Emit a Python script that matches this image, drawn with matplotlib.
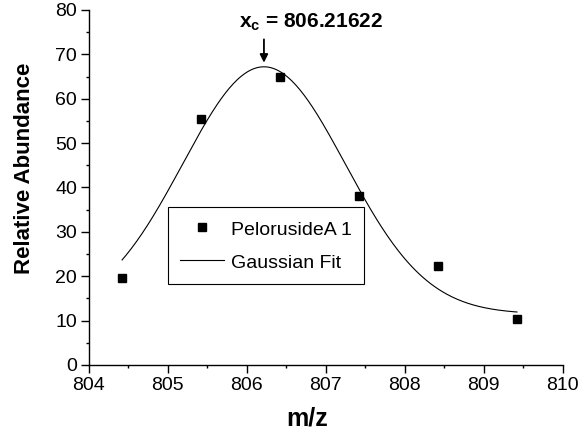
import matplotlib.pyplot as plt
import numpy as np
from matplotlib.ticker import MultipleLocator

plt.rcParams['font.family'] = ['Liberation Sans', 'DejaVu Sans']
plt.rcParams['mathtext.fontset'] = 'custom'
plt.rcParams['mathtext.rm'] = 'Liberation Sans'
plt.rcParams['mathtext.bf'] = 'Liberation Sans:bold'

# measured points
mz = [804.42, 805.42, 806.42, 807.42, 808.42, 809.42]
abundance = [19.6, 55.5, 64.9, 38.0, 22.3, 10.4]

# gaussian fit parameters (y0 + A*exp(-2((x-xc)/w)^2))
fit_y0 = 11.5
fit_A = 55.7
fit_xc = 806.21622
fit_w = 2.06
fit_range = (804.42, 809.42)

fig = plt.figure(figsize=(5.85, 4.38), dpi=100)
ax = fig.add_axes([0.152, 0.1667, 0.810, 0.8105])

xf = np.linspace(fit_range[0], fit_range[1], 300)
yf = fit_y0 + fit_A * np.exp(-2 * ((xf - fit_xc) / fit_w) ** 2)

ax.plot(mz, abundance, 's', color='black', markersize=5.5, label='PelorusideA 1')
ax.plot(xf, yf, '-', color='black', linewidth=0.8, label='Gaussian Fit')

ax.set_xlim(804, 810)
ax.set_ylim(0, 80)
ax.xaxis.set_major_locator(MultipleLocator(1))
ax.xaxis.set_minor_locator(MultipleLocator(0.5))
ax.yaxis.set_major_locator(MultipleLocator(10))
ax.yaxis.set_minor_locator(MultipleLocator(5))
ax.tick_params(which='major', direction='out', length=5.5, width=1.0, labelsize=14, pad=3)
ax.tick_params(which='minor', direction='out', length=2.5, width=1.0)
for s in ['top', 'right']:
    ax.spines[s].set_visible(False)
for s in ['left', 'bottom']:
    ax.spines[s].set_linewidth(1.0)

ax.set_xlabel('m/z', fontsize=18, fontweight='bold', va='center')
ax.xaxis.set_label_coords(0.46, -0.152)
ax.set_ylabel('Relative Abundance', fontsize=16, fontweight='bold', va='center')
ax.yaxis.set_label_coords(-0.135, 0.555)

peak = fit_y0 + fit_A
ax.annotate('', xy=(fit_xc, peak + 0.3), xytext=(fit_xc, 74.0),
            arrowprops=dict(arrowstyle='-|>', color='black', lw=1.3, mutation_scale=12))
ax.text(806.816, 77.2, r'$\mathbf{x}_{\mathbf{c}}$' + ' = %.5f' % fit_xc, fontsize=15,
        fontweight='bold', ha='center', va='center')

leg = ax.legend(loc='upper left', bbox_to_anchor=(0.1667, 0.446), borderaxespad=0,
                fontsize=14, frameon=True, fancybox=False, edgecolor='black',
                handlelength=2.3, handletextpad=0.36, borderpad=0.6,
                handleheight=1.2, labelspacing=0.65, numpoints=1, framealpha=1)
leg.get_frame().set_linewidth(0.8)

fig.savefig('out.png', dpi=100)
